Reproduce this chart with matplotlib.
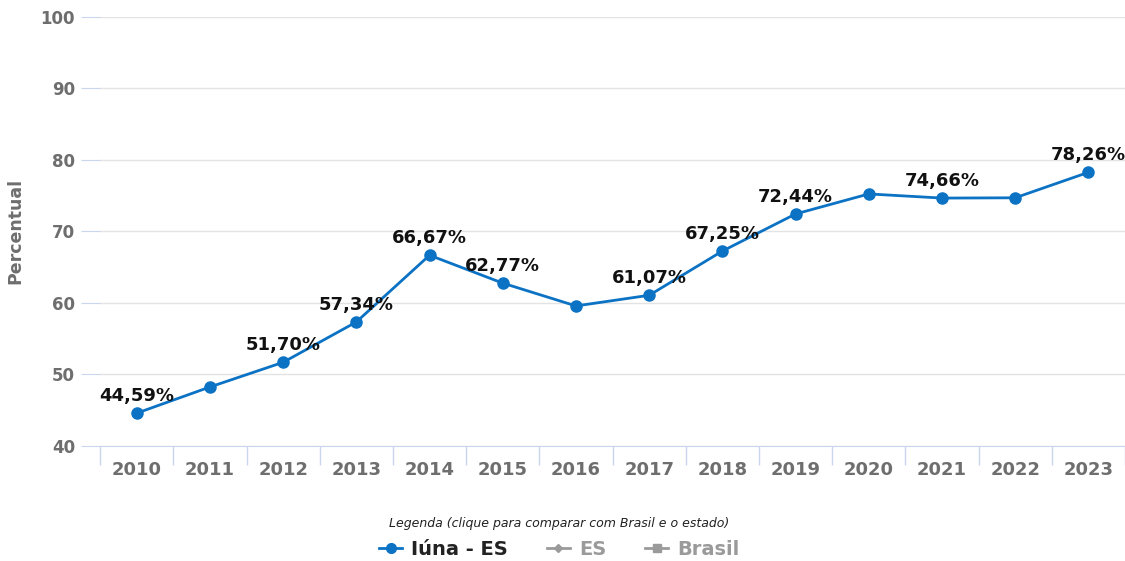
import matplotlib.pyplot as plt
from matplotlib.lines import Line2D

plt.rcParams['font.family'] = ['DejaVu Sans']

anos = ['2010', '2011', '2012', '2013', '2014', '2015', '2016',
        '2017', '2018', '2019', '2020', '2021', '2022', '2023']
iuna = [44.59, 48.25, 51.70, 57.34, 66.67, 62.77, 59.58,
        61.07, 67.25, 72.44, 75.24, 74.66, 74.70, 78.26]
# pontos que recebem rótulo de valor
rotulados = ['2010', '2012', '2013', '2014', '2015', '2017',
             '2018', '2019', '2021', '2023']

azul = '#0b72c4'
cinza = '#6e6e6e'

fig = plt.figure(figsize=(11.25, 5.61), dpi=100)
ax = fig.add_axes([0.089, 0.205, 0.911, 0.765])

x = list(range(len(anos)))
ax.plot(x, iuna, color=azul, lw=2, marker='o', ms=8, zorder=3, clip_on=False)

for i, (ano, v) in enumerate(zip(anos, iuna)):
    if ano in rotulados:
        txt = f'{v:.2f}'.replace('.', ',') + '%'
        ax.annotate(txt, (i, v), xytext=(0, 6), textcoords='offset points',
                    ha='center', va='bottom', fontsize=13, fontweight='bold',
                    color='#111111', zorder=4)

ax.set_xlim(-0.5, len(anos) - 0.5)
ax.set_ylim(40, 100)
ax.set_yticks(range(40, 101, 10))
ax.set_xticks(x)
ax.set_xticklabels(anos)
ax.set_xticks([i - 0.5 for i in range(len(anos) + 1)], minor=True)

ax.grid(axis='y', color='#e3e3e3', lw=1)
ax.set_axisbelow(True)
for s in ['top', 'right', 'left']:
    ax.spines[s].set_visible(False)
ax.spines['bottom'].set_color('#c9d6ee')

ax.tick_params(axis='x', which='major', length=0, pad=11, labelsize=13,
               labelcolor=cinza)
ax.tick_params(axis='x', which='minor', length=14, color='#c9d6ee', width=1)
ax.tick_params(axis='y', length=14, color='#c9d6ee', labelsize=12,
               labelcolor=cinza, pad=4)
for lb in ax.get_xticklabels() + ax.get_yticklabels():
    lb.set_fontweight('bold')

ax.set_ylabel('Percentual', fontsize=12.5, fontweight='bold', color=cinza,
              labelpad=12)

handles = [
    Line2D([], [], color=azul, lw=2, marker='o', ms=7),
    Line2D([], [], color='#9a9a9a', lw=2, marker='D', ms=4),
    Line2D([], [], color='#9a9a9a', lw=2, marker='s', ms=6),
]
leg = fig.legend(handles, ['Iúna - ES', 'ES', 'Brasil'], loc='lower center',
                 bbox_to_anchor=(0.497, -0.027), ncol=3, frameon=False,
                 fontsize=14, handlelength=1.2, handletextpad=0.45,
                 columnspacing=2.0,
                 title='Legenda (clique para comparar com Brasil e o estado)',
                 title_fontproperties={'size': 9, 'style': 'italic'})
leg.get_title().set_color('#222222')
for t, c in zip(leg.get_texts(), ['#222222', '#9a9a9a', '#9a9a9a']):
    t.set_color(c)
    t.set_fontweight('bold')

fig.savefig('out.png', dpi=100)
